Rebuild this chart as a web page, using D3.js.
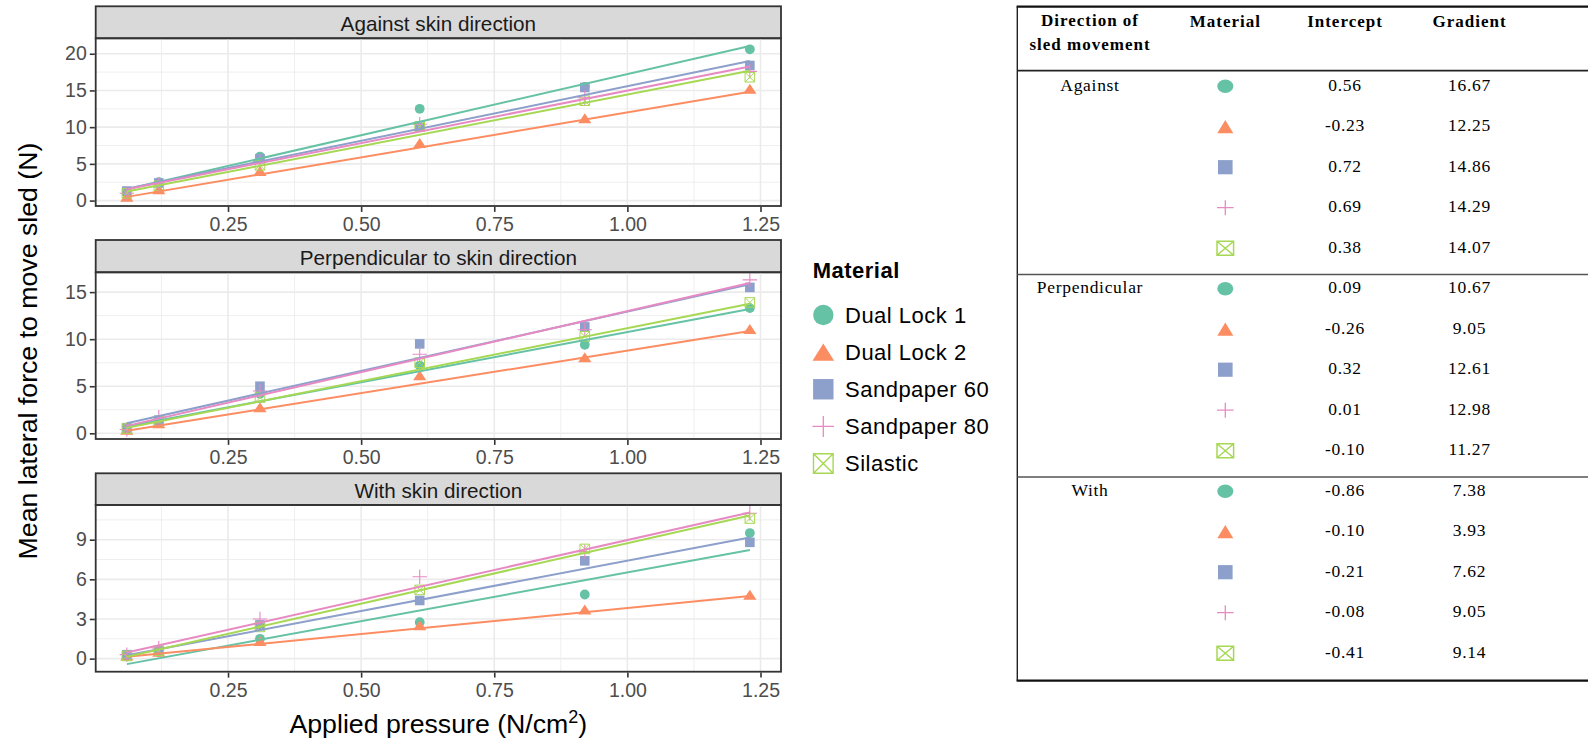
<!DOCTYPE html>
<html>
<head>
<meta charset="utf-8">
<script src="https://cdn.jsdelivr.net/npm/d3@7"></script>
<style>
  body { margin: 0; background: #fff; }
  svg { display: block; }
</style>
</head>
<body>
<svg id="chart" width="1588" height="741"></svg>
<script>
// ---- data -------------------------------------------------------------
const pressure = [0.06, 0.12, 0.31, 0.61, 0.92, 1.23];
const materials = ["Dual Lock 1", "Dual Lock 2", "Sandpaper 60", "Sandpaper 80", "Silastic"];
const directions = ["Against", "Perpendicular", "With"];
const panelTitles = ["Against skin direction", "Perpendicular to skin direction", "With skin direction"];
const xTicks = [0.25, 0.5, 0.75, 1.0, 1.25];
const yTicks = [[0, 5, 10, 15, 20], [0, 5, 10, 15], [0, 3, 6, 9]];

// mean lateral force (N) per material, one value per applied pressure
const forceAgainst = [
  [1.0, 2.5, 6.0, 12.5, 15.5, 20.6],
  [0.3, 1.3, 3.8, 7.6, 11.0, 15.0],
  [1.3, 2.4, 5.7, 10.0, 15.4, 18.4],
  [1.0, 2.2, 5.3, 10.4, 14.0, 17.6],
  [1.0, 2.0, 4.8, 10.1, 13.6, 16.8]
];
const forcePerpendicular = [
  [0.5, 1.2, 4.2, 7.2, 9.4, 13.3],
  [0.2, 0.9, 2.6, 6.0, 7.9, 10.9],
  [0.6, 1.4, 5.0, 9.5, 11.3, 15.5],
  [0.4, 1.7, 4.5, 8.4, 11.0, 16.3],
  [0.5, 1.3, 3.8, 7.5, 10.3, 13.9]
];
const forceWith = [
  [0.2, 0.5, 1.5, 2.75, 4.85, 9.5],
  [0.1, 0.4, 1.2, 2.4, 3.6, 4.7],
  [0.3, 0.6, 2.55, 4.4, 7.4, 8.8],
  [0.3, 0.8, 3.0, 6.2, 8.1, 11.0],
  [0.2, 0.6, 2.4, 5.2, 8.3, 10.6]
];
const forces = [forceAgainst, forcePerpendicular, forceWith];

// fitted linear models (rows: direction, columns: material)
const intercepts = [
  [0.56, -0.23, 0.72, 0.69, 0.38],
  [0.09, -0.26, 0.32, 0.01, -0.10],
  [-0.86, -0.10, -0.21, -0.08, -0.41]
];
const gradients = [
  [16.67, 12.25, 14.86, 14.29, 14.07],
  [10.67, 9.05, 12.61, 12.98, 11.27],
  [7.38, 3.93, 7.62, 9.05, 9.14]
];

const colors = ["#66C2A5", "#FC8D62", "#8DA0CB", "#E78AC3", "#A6D854"];
const shapes = ["circle", "triangle", "square", "plus", "boxcross"];

// ---- helpers ----------------------------------------------------------
const svg = d3.select("#chart");
const SANS = "'Liberation Sans', Arial, sans-serif";
const SERIF = "'Liberation Serif', 'Times New Roman', serif";
const fmt2 = d3.formatLocale({decimal: ".", thousands: ",", grouping: [3], currency: ["", ""], minus: "-"}).format(".2f");

// draws a marker of the given shape centred at (0,0); sx/sy give half-extents.
// Triangles are placed by their centroid unless boxCentred is set.
function drawShape(g, shape, color, sx, sy, sw, boxCentred) {
  if (shape === "circle") {
    g.append("ellipse").attr("rx", sx).attr("ry", sy).attr("fill", color);
  } else if (shape === "triangle") {
    let top = -sy * 1.333, bot = sy * 0.667;
    if (boxCentred) { top = -sy; bot = sy; }
    g.append("path").attr("d", `M0,${top}L${sx},${bot}L${-sx},${bot}Z`).attr("fill", color);
  } else if (shape === "square") {
    g.append("rect").attr("x", -sx).attr("y", -sy).attr("width", 2 * sx).attr("height", 2 * sy).attr("fill", color);
  } else if (shape === "plus") {
    g.append("path").attr("d", `M${-sx},0H${sx}M0,${-sy}V${sy}`)
      .attr("stroke", color).attr("stroke-width", sw).attr("fill", "none");
  } else {
    g.append("path").attr("d", `M${-sx},${-sy}H${sx}V${sy}H${-sx}ZM${-sx},${-sy}L${sx},${sy}M${sx},${-sy}L${-sx},${sy}`)
      .attr("stroke", color).attr("stroke-width", sw).attr("fill", "none");
  }
}

// ---- faceted scatter plot ---------------------------------------------
const panelLeft = 95.7, panelRight = 781;
const panels = [
  {stripTop: 6.3, top: 38.3, bottom: 206},
  {stripTop: 240, top: 272.3, bottom: 439},
  {stripTop: 473.3, top: 505, bottom: 671.7}
];

const xExt = d3.extent(pressure);
const xPad = (xExt[1] - xExt[0]) * 0.05;
const x = d3.scaleLinear().domain([xExt[0] - xPad, xExt[1] + xPad]).range([panelLeft, panelRight]);
const xMinor = d3.range(0, 1.5, 0.125)
  .filter(v => !xTicks.some(t => Math.abs(t - v) < 1e-9))
  .filter(v => v > x.domain()[0] && v < x.domain()[1]);

panels.forEach((pn, p) => {
  // y range covers points and fitted lines, padded 5% each side
  const vals = forces[p].flat();
  materials.forEach((m, i) => xExt.forEach(xv => vals.push(intercepts[p][i] + gradients[p][i] * xv)));
  const yExt = d3.extent(vals);
  const yPad = (yExt[1] - yExt[0]) * 0.05;
  const y = d3.scaleLinear().domain([yExt[0] - yPad, yExt[1] + yPad]).range([pn.bottom, pn.top]);
  const yStep = yTicks[p][1] - yTicks[p][0];
  const yMinor = d3.range(yTicks[p][0] - yStep / 2, y.domain()[1], yStep)
    .filter(v => v > y.domain()[0] && v < y.domain()[1]);

  const g = svg.append("g");

  // strip
  g.append("rect").attr("x", panelLeft).attr("y", pn.stripTop)
    .attr("width", panelRight - panelLeft).attr("height", pn.top - pn.stripTop)
    .attr("fill", "#D9D9D9").attr("stroke", "#333333").attr("stroke-width", 1.8);
  g.append("text").attr("x", (panelLeft + panelRight) / 2).attr("y", (pn.stripTop + pn.top) / 2 + 1)
    .attr("text-anchor", "middle").attr("dominant-baseline", "central")
    .attr("font-family", SANS).attr("font-size", 20.7).attr("fill", "#1A1A1A")
    .text(panelTitles[p]);

  // grid
  const grid = g.append("g");
  grid.selectAll(".xmin").data(xMinor).join("line")
    .attr("x1", d => x(d)).attr("x2", d => x(d)).attr("y1", pn.top).attr("y2", pn.bottom)
    .attr("stroke", "#EBEBEB").attr("stroke-width", 0.8);
  grid.selectAll(".ymin").data(yMinor).join("line")
    .attr("x1", panelLeft).attr("x2", panelRight).attr("y1", d => y(d)).attr("y2", d => y(d))
    .attr("stroke", "#EBEBEB").attr("stroke-width", 0.8);
  grid.selectAll(".xmaj").data(xTicks).join("line")
    .attr("x1", d => x(d)).attr("x2", d => x(d)).attr("y1", pn.top).attr("y2", pn.bottom)
    .attr("stroke", "#EBEBEB").attr("stroke-width", 1.6);
  grid.selectAll(".ymaj").data(yTicks[p]).join("line")
    .attr("x1", panelLeft).attr("x2", panelRight).attr("y1", d => y(d)).attr("y2", d => y(d))
    .attr("stroke", "#EBEBEB").attr("stroke-width", 1.6);

  // points
  materials.forEach((m, i) => {
    forces[p][i].forEach((v, j) => {
      const pt = g.append("g").attr("transform", `translate(${x(pressure[j])},${y(v)})`);
      const s = shapes[i];
      if (s === "circle") drawShape(pt, s, colors[i], 4.9, 4.9, 1);
      else if (s === "triangle") drawShape(pt, s, colors[i], 6.6, 5.0, 1);
      else if (s === "square") drawShape(pt, s, colors[i], 4.8, 4.8, 1);
      else if (s === "plus") drawShape(pt, s, colors[i], 7.2, 7.2, 1.1);
      else drawShape(pt, s, colors[i], 4.8, 4.8, 1);
    });
  });

  // fitted lines
  const line = d3.line().x(d => x(d[0])).y(d => y(d[1]));
  materials.forEach((m, i) => {
    g.append("path")
      .attr("d", line(xExt.map(xv => [xv, intercepts[p][i] + gradients[p][i] * xv])))
      .attr("fill", "none").attr("stroke", colors[i]).attr("stroke-width", 2);
  });

  // border
  g.append("rect").attr("x", panelLeft).attr("y", pn.top)
    .attr("width", panelRight - panelLeft).attr("height", pn.bottom - pn.top)
    .attr("fill", "none").attr("stroke", "#333333").attr("stroke-width", 1.8);

  // axes
  const ya = g.append("g").attr("transform", `translate(${panelLeft - 0.9},0)`)
    .call(d3.axisLeft(y).tickValues(yTicks[p]).tickSize(5).tickPadding(3).tickFormat(d3.format("d")));
  const xa = g.append("g").attr("transform", `translate(0,${pn.bottom + 0.9})`)
    .call(d3.axisBottom(x).tickValues(xTicks).tickSize(5).tickPadding(5.5).tickFormat(d3.format(".2f")));
  [ya, xa].forEach(a => {
    a.select(".domain").remove();
    a.selectAll(".tick line").attr("stroke", "#333333").attr("stroke-width", 1.6);
    a.selectAll(".tick text").attr("fill", "#4D4D4D").attr("font-family", SANS).attr("font-size", 19.5);
  });
});

// axis titles
svg.append("text").attr("x", (panelLeft + panelRight) / 2).attr("y", 733)
  .attr("text-anchor", "middle").attr("font-family", SANS).attr("font-size", 26.7).attr("fill", "#000")
  .call(t => {
    t.append("tspan").text("Applied pressure (N/cm");
    t.append("tspan").attr("font-size", 18).attr("dy", -10).text("2");
    t.append("tspan").attr("dy", 10).text(")");
  });
svg.append("text").attr("transform", "translate(36.7,351) rotate(-90)")
  .attr("text-anchor", "middle").attr("font-family", SANS).attr("font-size", 26.7).attr("fill", "#000")
  .text("Mean lateral force to move sled (N)");

// legend
const legend = svg.append("g");
legend.append("text").attr("x", 812.7).attr("y", 278.3)
  .attr("font-family", SANS).attr("font-weight", "bold").attr("font-size", 22).attr("letter-spacing", 0.5)
  .attr("fill", "#000").text("Material");
const legendY = d3.scaleLinear().domain([0, 4]).range([315, 463.5]);
materials.forEach((m, i) => {
  const k = legend.append("g").attr("transform", `translate(823.3,${legendY(i)})`);
  const s = shapes[i];
  if (s === "circle") drawShape(k, s, colors[i], 10.2, 10.2, 1);
  else if (s === "triangle") drawShape(k, s, colors[i], 10.8, 8.6, 1, true);
  else if (s === "square") drawShape(k, s, colors[i], 10.2, 10.2, 1);
  else if (s === "plus") drawShape(k, s, colors[i], 10.8, 10.5, 1.3);
  else drawShape(k, s, colors[i], 9.8, 9.8, 1.4);
  legend.append("text").attr("x", 845).attr("y", legendY(i) + 7.8)
    .attr("font-family", SANS).attr("font-size", 22).attr("letter-spacing", 0.5).attr("fill", "#000")
    .text(m);
});

// ---- regression table -------------------------------------------------
const table = svg.append("g");
const tLeft = 1017.3, tRight = 1588, tTop = 6.7, tBottom = 680.7, headLine = 70.7;
const colX = {direction: 1090, material: 1225.3, intercept: 1345, gradient: 1469.5};
const rows = directions.flatMap((d, s) => materials.map((m, i) => ({
  s, i, k: s * materials.length + i, dir: d, a: intercepts[s][i], b: gradients[s][i]
})));
const rowY = d3.scaleLinear().domain([0, rows.length - 1]).range([90.5, 657.5]);

// rules
table.append("line").attr("x1", tLeft - 0.7).attr("x2", tRight).attr("y1", tTop).attr("y2", tTop)
  .attr("stroke", "#111").attr("stroke-width", 2.2);
table.append("line").attr("x1", tLeft - 0.7).attr("x2", tRight).attr("y1", tBottom).attr("y2", tBottom)
  .attr("stroke", "#111").attr("stroke-width", 2.2);
table.append("line").attr("x1", tLeft).attr("x2", tLeft).attr("y1", tTop).attr("y2", tBottom)
  .attr("stroke", "#222").attr("stroke-width", 1.4);
table.append("line").attr("x1", tLeft).attr("x2", tRight).attr("y1", headLine).attr("y2", headLine)
  .attr("stroke", "#222").attr("stroke-width", 1.8);
table.selectAll(".sep").data(directions.slice(1)).join("line")
  .attr("x1", tLeft).attr("x2", tRight)
  .attr("y1", (d, s) => rowY((s + 1) * materials.length) - 18.5)
  .attr("y2", (d, s) => rowY((s + 1) * materials.length) - 18.5)
  .attr("stroke", "#555").attr("stroke-width", 1.3);

// header
const head = table.append("g").attr("font-family", SERIF).attr("font-weight", "bold")
  .attr("font-size", 17).attr("letter-spacing", 1).attr("text-anchor", "middle").attr("fill", "#000");
head.append("text").attr("x", colX.direction).attr("y", 26).text("Direction of");
head.append("text").attr("x", colX.direction).attr("y", 50).text("sled movement");
head.append("text").attr("x", colX.material).attr("y", 26.5).text("Material");
head.append("text").attr("x", colX.intercept).attr("y", 26.5).text("Intercept");
head.append("text").attr("x", colX.gradient).attr("y", 26.5).text("Gradient");

// body
const body = table.append("g").attr("font-family", SERIF).attr("font-size", 17.5)
  .attr("letter-spacing", 0.7).attr("text-anchor", "middle").attr("fill", "#000");
body.selectAll(".dir").data(rows.filter(r => r.i === 0)).join("text")
  .attr("x", colX.direction).attr("y", r => rowY(r.k)).text(r => r.dir);
body.selectAll(".icp").data(rows).join("text")
  .attr("x", colX.intercept).attr("y", r => rowY(r.k)).text(r => fmt2(r.a));
body.selectAll(".grd").data(rows).join("text")
  .attr("x", colX.gradient).attr("y", r => rowY(r.k)).text(r => fmt2(r.b));

rows.forEach(r => {
  const ic = table.append("g").attr("transform", `translate(${colX.material},${rowY(r.k) - 4.3})`);
  const s = shapes[r.i];
  if (s === "circle") drawShape(ic, s, colors[r.i], 8, 6.7, 1);
  else if (s === "triangle") drawShape(ic, s, colors[r.i], 8, 6.6, 1, true);
  else if (s === "square") drawShape(ic, s, colors[r.i], 7.3, 7.1, 1);
  else if (s === "plus") drawShape(ic, s, colors[r.i], 8.3, 7.5, 1.3);
  else drawShape(ic, s, colors[r.i], 8.3, 7, 1.5);
});
</script>
</body>
</html>
